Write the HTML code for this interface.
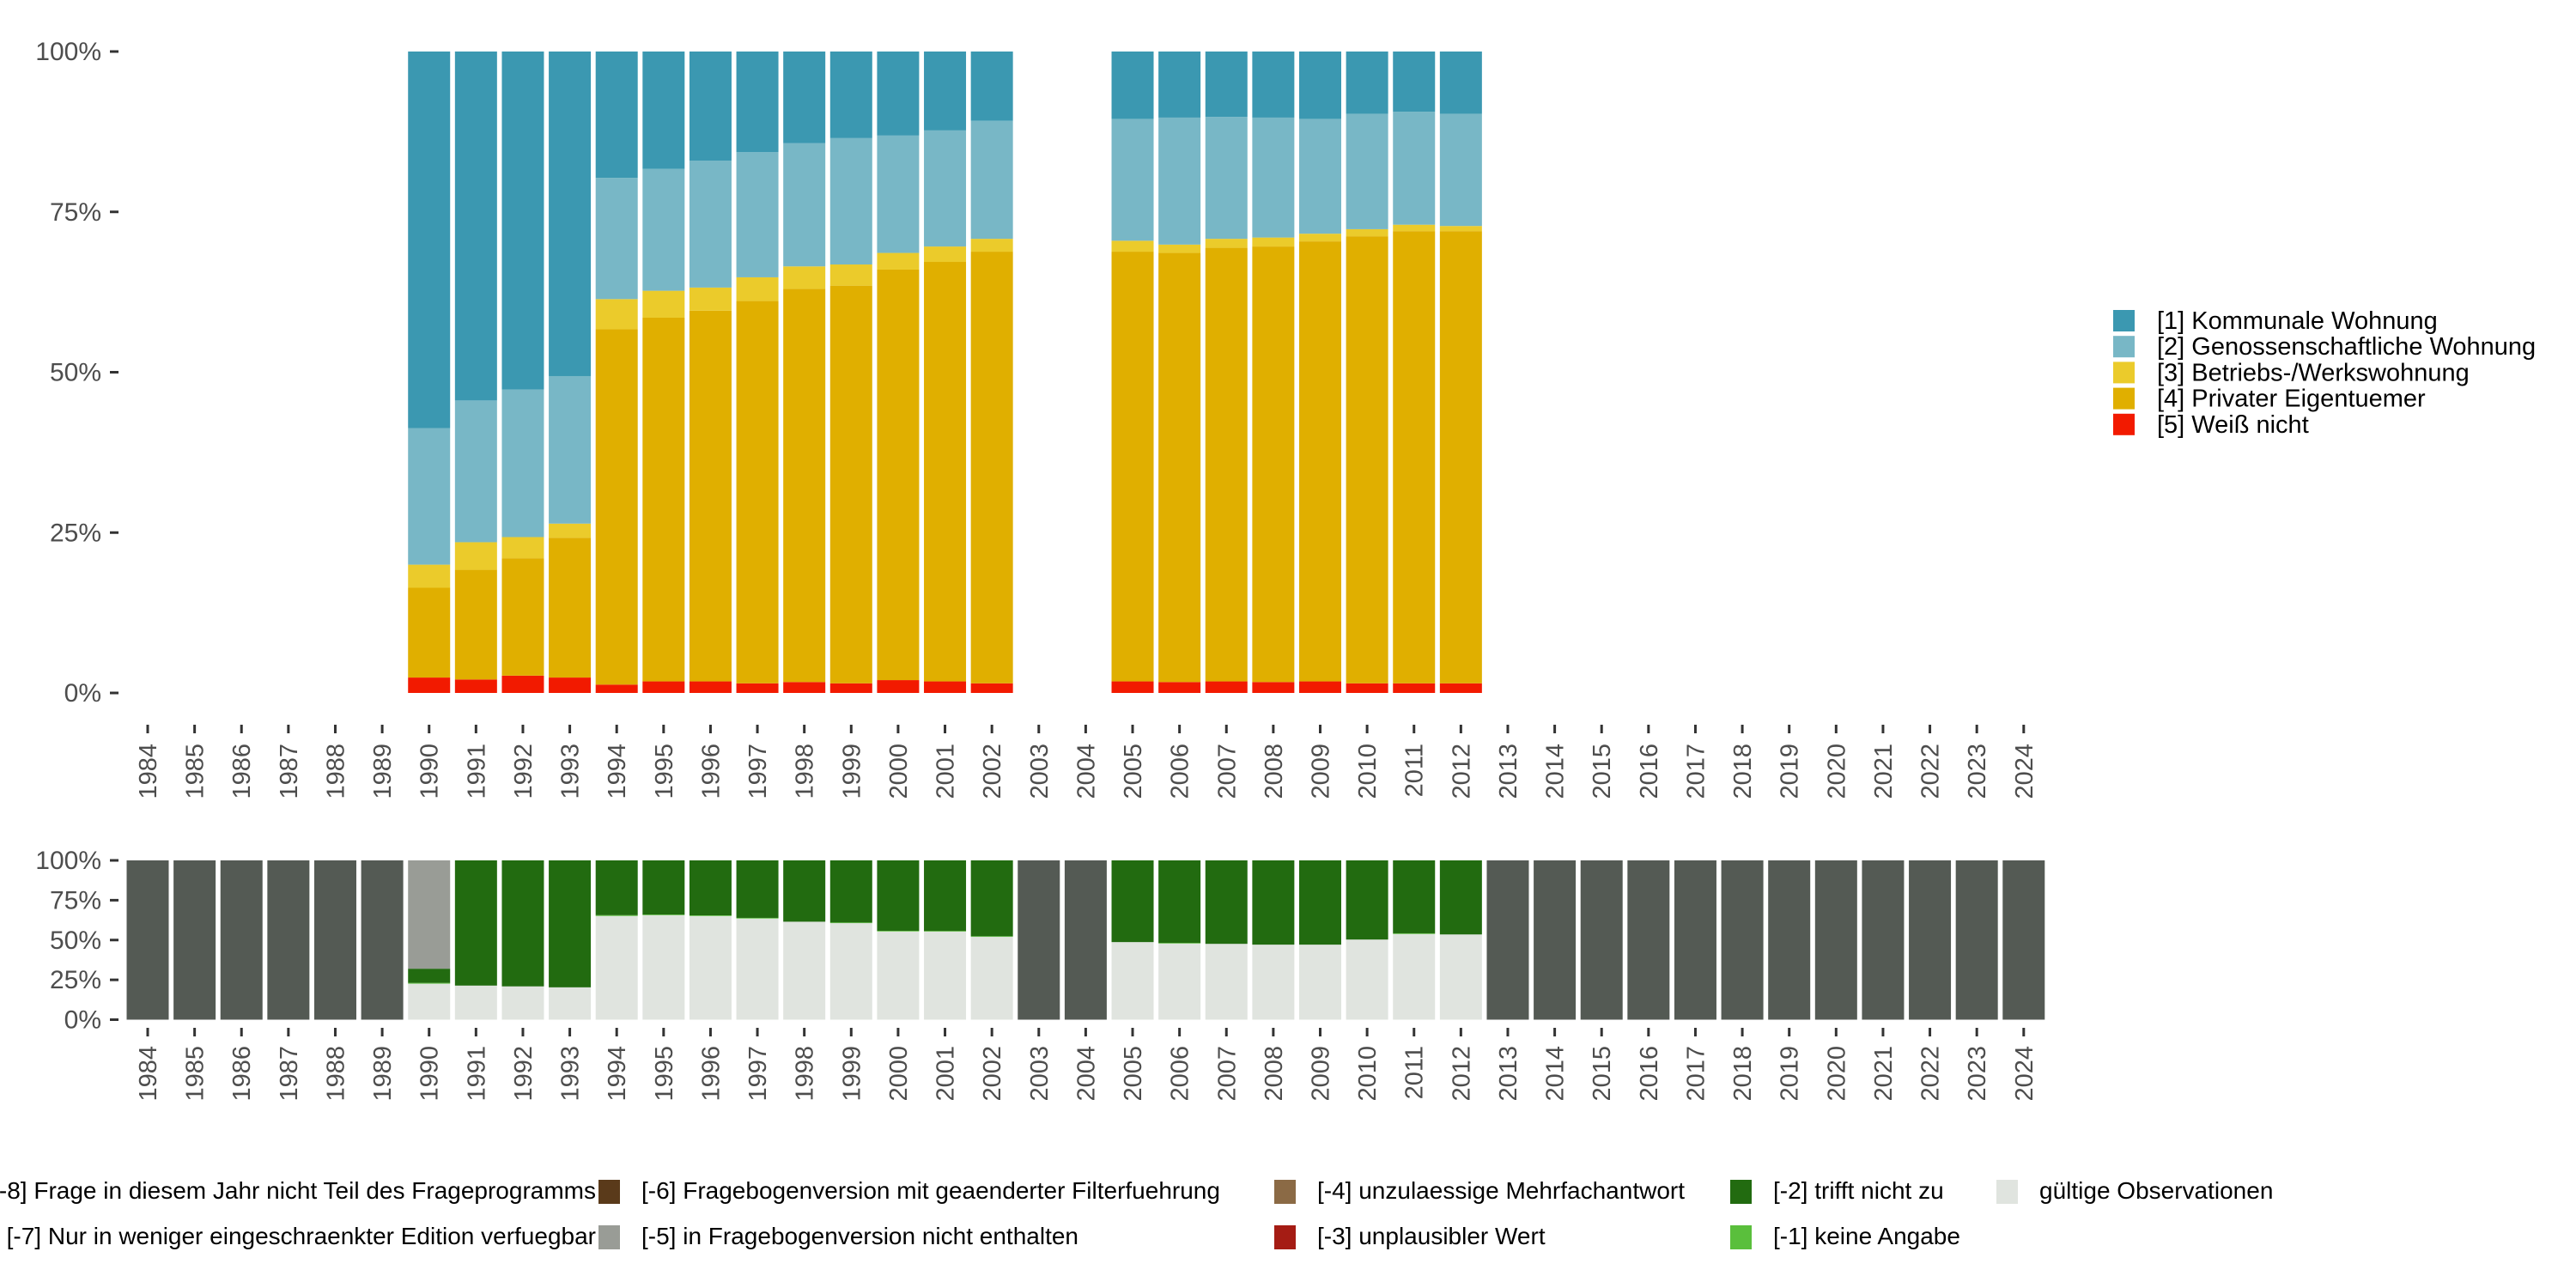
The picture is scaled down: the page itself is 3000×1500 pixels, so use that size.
<!DOCTYPE html>
<html><head><meta charset="utf-8"><style>
html,body{margin:0;padding:0;background:#fff;}
svg{display:block;font-family:"Liberation Sans",sans-serif;}
</style></head><body>
<svg id="chart" width="3000" height="1500" viewBox="0 0 3000 1500" xmlns="http://www.w3.org/2000/svg">
<g id="top"></g>
<g id="bottom"></g>
<g id="legend1"></g>
<g id="legend2"></g>
</svg>
<script>
const years = [];
for (let y = 1984; y <= 2024; y++) years.push(y);
const topYears = [1990,1991,1992,1993,1994,1995,1996,1997,1998,1999,2000,2001,2002,2005,2006,2007,2008,2009,2010,2011,2012];
const catNames = ["[1] Kommunale Wohnung","[2] Genossenschaftliche Wohnung","[3] Betriebs-/Werkswohnung","[4] Privater Eigentuemer","[5] Weiß nicht"];
const catColors = ["#3b98b1","#78b7c6","#ebcb2b","#e0af00","#f21a00"];
// shares (%) per year
const sWeiss  = [2.4,2.1,2.7,2.4,1.3,1.8,1.8,1.5,1.7,1.5,2.0,1.8,1.5,1.8,1.7,1.8,1.7,1.8,1.5,1.5,1.5];
const sPriv   = [14.0,17.1,18.3,21.8,55.4,56.7,57.8,59.6,61.3,62.0,64.0,65.4,67.3,67.0,66.9,67.6,67.9,68.6,69.7,70.5,70.5];
const sBetr   = [3.6,4.3,3.3,2.2,4.7,4.2,3.6,3.7,3.5,3.3,2.6,2.4,2.0,1.7,1.3,1.4,1.4,1.2,1.1,1.0,0.8];
const sGeno   = [21.3,22.1,23.0,23.0,18.9,19.0,19.8,19.5,19.2,19.7,18.3,18.1,18.4,19.0,19.8,19.0,18.7,17.9,18.0,17.6,17.5];
const sKomm   = [58.7,54.4,52.7,50.6,19.7,18.3,17.0,15.7,14.3,13.5,13.1,12.3,10.8,10.5,10.3,10.2,10.3,10.5,9.7,9.4,9.7];
// bottom chart
const validShare = {1990:22.6,1991:21.4,1992:20.9,1993:20.3,1994:65.1,1995:65.6,1996:65.1,1997:63.5,1998:61.5,1999:60.6,2000:55.4,2001:55.3,2002:52.0,2005:48.7,2006:47.8,2007:47.6,2008:47.1,2009:47.1,2010:50.3,2011:53.8,2012:53.5};
const keineShare = {1990:0.5,1994:0.5,1995:0.4,1996:0.4,1997:0.4,1999:0.4,2000:0.4,2001:0.4,2002:0.4,2006:0.4,2011:0.4};
const notInVersion = {1990:68};
const yTicks = [0,25,50,75,100];
const yTickLabels = ["0%","25%","50%","75%","100%"];
const leg2Names = ["[-8] Frage in diesem Jahr nicht Teil des Frageprogramms","[-7] Nur in weniger eingeschraenkter Edition verfuegbar","[-6] Fragebogenversion mit geaenderter Filterfuehrung","[-5] in Fragebogenversion nicht enthalten","[-4] unzulaessige Mehrfachantwort","[-3] unplausibler Wert","[-2] trifft nicht zu","[-1] keine Angabe","gültige Observationen"];
const leg2Colors = ["#545a54","#545a54","#5a3a1a","#999c96","#8b6a45","#a51c14","#226b10","#5abf3c","#e0e4df"];

const NS = "http://www.w3.org/2000/svg";
function mk(tag, attrs, parent, text){const e=document.createElementNS(NS,tag);for(const k in attrs)e.setAttribute(k,attrs[k]);if(text!==undefined)e.textContent=text;parent.appendChild(e);return e;}
const xPos = y => 172 + (y-1984)*54.62;
const BW = 49;
const yTop = v => 807 - v/100*(807-60);
const yBot = v => 1187.5 - v/100*(1187.5-1002);

function axes(g, yf, tickY1, labY, name){
  yTicks.forEach((t,i)=>{
    const l=mk("line",{x1:128,x2:138,y1:yf(t),y2:yf(t),stroke:"#333","stroke-width":3},g);
    
    
    const tx=mk("text",{x:118,y:yf(t)+10,"text-anchor":"end","font-size":30,fill:"#4d4d4d"},g,yTickLabels[i]);
    
    
  });
  years.forEach(yr=>{
    const x=xPos(yr);
    const l=mk("line",{x1:x,x2:x,y1:tickY1,y2:tickY1+10,stroke:"#333","stroke-width":3},g);
    
    
    const t=mk("text",{x:0,y:0,"text-anchor":"end","font-size":29,fill:"#4d4d4d",transform:`translate(${x+10},${labY}) rotate(-90)`},g,String(yr));
    
    
  });
}

const gt=document.getElementById("top");
axes(gt, yTop, 844, 866, 'top');
topYears.forEach((yr,i)=>{
  const vals=[sWeiss[i],sPriv[i],sBetr[i],sGeno[i],sKomm[i]];
  const cols=[catColors[4],catColors[3],catColors[2],catColors[1],catColors[0]];
  const nm=['weiss-nicht','privater-eigentuemer','betriebswohnung','genossenschaft','kommunal'];
  let c=0;
  vals.forEach((v,k)=>{
    const y1=yTop(c+v), y0=yTop(c);
    const r=mk("rect",{x:xPos(yr)-BW/2,y:y1,width:BW,height:y0-y1,fill:cols[k]},gt);
    
    
    c+=v;
  });
});

const gb=document.getElementById("bottom");
axes(gb, yBot, 1197, 1218, 'bottom');
years.forEach(yr=>{
  const segs=[];
  if(validShare[yr]!==undefined){
    const v=validShare[yr], k=keineShare[yr]||0, n=notInVersion[yr]||0;
    segs.push([v,"#e0e4df","valid"]);
    segs.push([k,"#5abf3c","keine-angabe"]);
    segs.push([100-v-k-n,"#226b10","trifft-nicht-zu"]);
    segs.push([n,"#999c96","nicht-enthalten"]);
  } else segs.push([100,"#545a54","nicht-teil"]);
  let c=0;
  segs.forEach(s=>{
    if(s[0]<=0)return;
    const y1=yBot(c+s[0]), y0=yBot(c);
    const r=mk("rect",{x:xPos(yr)-BW/2,y:y1,width:BW,height:y0-y1,fill:s[1]},gb);
    
    
    c+=s[0];
  });
});

const l1=document.getElementById("legend1");
catNames.forEach((n,i)=>{
  const y=361+i*30.2;
  const r=mk("rect",{x:2461,y:y,width:25,height:25,fill:catColors[i]},l1);
  
  
  const t=mk("text",{x:2512,y:y+22,"font-size":29,fill:"#000"},l1,n);
  
  
});

const l2=document.getElementById("legend2");
const rowY=[1380,1433];
const colSw=[null,697,1484,2015,2325];
const colTx=[null,747,1534,2065,2375];
leg2Names.forEach((n,i)=>{
  const col=Math.floor(i/2), row=i%2, y=rowY[row]-6;
  if(col===0){
    const t=mk("text",{x:694,y:y+22,"text-anchor":"end","font-size":28,fill:"#000"},l2,n);
    
    
    return;
  }
  const r=mk("rect",{x:colSw[col],y:y,width:25,height:28,fill:leg2Colors[i]},l2);
  
  
  const t=mk("text",{x:colTx[col],y:y+22,"font-size":28,fill:"#000"},l2,n);
  
  
});
</script>
</body></html>
